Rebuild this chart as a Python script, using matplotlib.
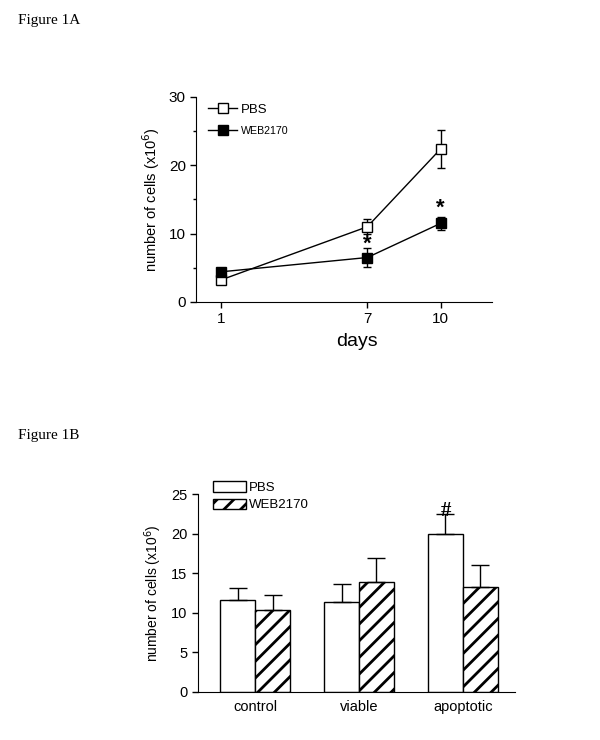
import numpy as np
import matplotlib
matplotlib.use("Agg")
import matplotlib.pyplot as plt
from matplotlib.lines import Line2D
from matplotlib.patches import Patch

plt.rcParams["font.family"] = ["Liberation Sans", "DejaVu Sans"]
plt.rcParams["hatch.linewidth"] = 2.0

# =====================================================
# Data - Figure 1A (time course)
# =====================================================

days = [1, 7, 10]
pbs_mean = [3.2, 11.0, 22.4]
pbs_err = [0.4, 1.1, 2.8]
web_mean = [4.4, 6.5, 11.5]
web_err = [0.3, 1.4, 1.0]
star_days = [7, 10]
star_y = [8.5, 13.7]

# =====================================================
# Data - Figure 1B (bars)
# =====================================================

groups = ["control", "viable", "apoptotic"]
bar_pbs = [11.6, 11.4, 20.0]
bar_pbs_err = [1.5, 2.2, 2.5]
bar_web = [10.3, 13.9, 13.3]
bar_web_err = [1.95, 3.05, 2.8]

fig = plt.figure(figsize=(6, 7.4), dpi=100)

fig.text(0.03, 0.972, "Figure 1A", family="Liberation Serif", fontsize=11, va="center")
fig.text(0.03, 0.412, "Figure 1B", family="Liberation Serif", fontsize=11, va="center")

# =====================================================
# Panel A
# =====================================================

ax1 = fig.add_axes([0.327, 0.592, 0.493, 0.277])

ax1.errorbar(days, pbs_mean, yerr=pbs_err, color="black", lw=1,
             marker="s", ms=6.5, mfc="white", mec="black", mew=1,
             capsize=3, elinewidth=1, capthick=1, zorder=3)
ax1.errorbar(days, web_mean, yerr=web_err, color="black", lw=1,
             marker="s", ms=6.5, mfc="black", mec="black", mew=1,
             capsize=3, elinewidth=1, capthick=1, zorder=3)

for d, y in zip(star_days, star_y):
    ax1.text(d, y, "*", ha="center", va="center", fontsize=16, fontweight="bold")

ax1.set_xlim(0, 12.1)
ax1.set_ylim(0, 30)
ax1.set_xticks(days)
ax1.set_yticks([0, 10, 20, 30])
ax1.set_yticks([5, 15, 25], minor=True)
ax1.tick_params(axis="both", labelsize=11, direction="out", length=4, width=1)
ax1.tick_params(axis="y", which="minor", length=2.5, width=1)
ax1.spines["top"].set_visible(False)
ax1.spines["right"].set_visible(False)
ax1.set_xlabel("days", fontsize=14, labelpad=5, x=0.545)
ax1.set_ylabel("number of cells (x10$^6$)", fontsize=10.5, labelpad=5)

handles1 = [
    Line2D([], [], color="black", lw=1, marker="s", ms=6.5, mfc="white", mec="black"),
    Line2D([], [], color="black", lw=1, marker="s", ms=6.5, mfc="black", mec="black"),
]
leg1 = ax1.legend(handles1, ["PBS", "WEB2170"], loc="upper left",
                  bbox_to_anchor=(0.0, 1.025), frameon=False, fontsize=9.5,
                  handlelength=2.2, handletextpad=0.3, labelspacing=0.7)
leg1.get_texts()[1].set_fontsize(7.7)

# =====================================================
# Panel B
# =====================================================

ax2 = fig.add_axes([0.33, 0.065, 0.528, 0.267])

x = np.arange(len(groups))
w = 0.335

ax2.bar(x - w / 2, bar_pbs, w, color="white", edgecolor="black", lw=1,
        yerr=[np.zeros(3), bar_pbs_err], capsize=6.5,
        error_kw=dict(elinewidth=1, capthick=1))
ax2.bar(x + w / 2, bar_web, w, color="white", edgecolor="black", lw=1,
        hatch="//", yerr=[np.zeros(3), bar_web_err], capsize=6.5,
        error_kw=dict(elinewidth=1, capthick=1))

ax2.text(x[2] - w / 2, bar_pbs[2] + bar_pbs_err[2] + 0.4, "#", ha="center",
         va="center", fontsize=15, family="Liberation Serif", fontweight="bold")

ax2.set_xlim(-0.55, 2.5)
ax2.set_ylim(0, 25)
ax2.set_xticks(x)
ax2.set_xticklabels(groups)
ax2.set_yticks(np.arange(0, 26, 5))
ax2.tick_params(axis="x", length=0, labelsize=10.5, pad=6)
ax2.tick_params(axis="y", labelsize=10.5, direction="out", length=4, width=1)
ax2.spines["top"].set_visible(False)
ax2.spines["right"].set_visible(False)
ax2.set_ylabel("number of cells (x10$^6$)", fontsize=10, labelpad=5)

handles2 = [
    Patch(facecolor="white", edgecolor="black", lw=1),
    Patch(facecolor="white", edgecolor="black", lw=1, hatch="//"),
]
ax2.legend(handles2, ["PBS", "WEB2170"], loc="upper left",
           bbox_to_anchor=(0.01, 1.125), frameon=False, fontsize=9.5,
           handlelength=2.5, handleheight=0.8, handletextpad=0.2,
           labelspacing=0.35)

plt.savefig("out.png", dpi=100)
